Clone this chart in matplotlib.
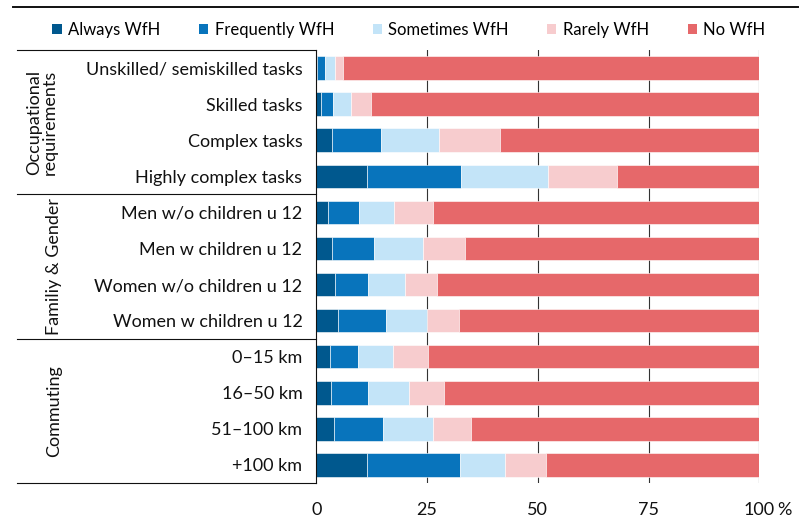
import matplotlib
matplotlib.use("Agg")
import matplotlib.pyplot as plt
from matplotlib.patches import Patch
from matplotlib.lines import Line2D
from matplotlib.transforms import blended_transform_factory
import numpy as np

plt.rcParams['font.family'] = ['Lato', 'DejaVu Sans']

categories = ["Unskilled/ semiskilled tasks", "Skilled tasks", "Complex tasks",
              "Highly complex tasks", "Men w/o children u 12", "Men w children u 12",
              "Women w/o children u 12", "Women w children u 12",
              "0\u201315 km", "16\u201350 km", "51\u2013100 km", "+100 km"]
series_names = ["Always WfH", "Frequently WfH", "Sometimes WfH", "Rarely WfH", "No WfH"]
always     = [0.2, 1.1, 3.5, 11.5, 2.7, 3.6, 4.2, 4.9, 3.1, 3.3, 4.0, 11.5]
frequently = [1.7, 2.7, 11.1, 21.1, 6.9, 9.4, 7.4, 10.8, 6.3, 8.3, 11.0, 20.9]
sometimes  = [2.3, 4.1, 13.1, 19.7, 8.0, 11.1, 8.4, 9.3, 7.9, 9.3, 11.4, 10.2]
rarely     = [1.8, 4.5, 13.8, 15.6, 8.8, 9.5, 7.3, 7.1, 7.9, 8.0, 8.5, 9.3]
no_wfh     = [94.0, 87.6, 58.5, 32.1, 73.6, 66.4, 72.7, 67.9, 74.8, 71.1, 65.1, 48.1]
groups = ["Occupational\nrequirements", "Familiy & Gender", "Commuting"]
group_sizes = [4, 4, 4]
xticks = [0, 25, 50, 75, 100]

colors = ["#00588E", "#0874BC", "#C3E4F8", "#F7CCCE", "#E6686A"]
series = [always, frequently, sometimes, rarely, no_wfh]
FS = 13
TXT = '#111111'

W, H = 806, 518
fig = plt.figure(figsize=(W / 100, H / 100), dpi=100)
ax = fig.add_axes([316.3 / W, 1 - 483 / H, (759.4 - 316.3) / W, (483 - 50) / H])

y = np.arange(len(categories))
left = np.zeros(len(categories))
for vals, col, name in zip(series, colors, series_names):
    ax.barh(y, vals, left=left, height=0.65, color=col, edgecolor='white',
            linewidth=0.4, label=name, zorder=3)
    left += np.array(vals)

ax.set_xlim(0, 100)
ax.set_ylim(len(categories) - 0.5, -0.5)
ax.set_yticks(y)
ax.set_yticklabels(categories, fontsize=FS, color=TXT)
ax.set_xticks(xticks)
ax.set_xticklabels([str(t) for t in xticks], fontsize=FS, color=TXT)
ax.tick_params(axis='y', length=0, pad=10)
ax.tick_params(axis='x', length=0, pad=14)
for t in xticks[1:]:
    ax.axvline(t, color='#333333', linewidth=0.8, zorder=1)
for s in ['top', 'right', 'bottom']:
    ax.spines[s].set_visible(False)
ax.spines['left'].set_color('#111111')
ax.spines['left'].set_linewidth(0.8)
ax.spines['left'].set_zorder(4)

# percent sign after 100
ax.annotate("%", xy=(100, 0), xycoords=blended_transform_factory(ax.transData, ax.transAxes),
            xytext=(12.5, -14), textcoords='offset points', ha='left', va='top',
            fontsize=FS, color=TXT)

# group separators and labels
bt = blended_transform_factory(fig.transFigure, ax.transData)
x_left = 17 / W
x_spine = 316.3 / W
start = -0.5
for g, n in zip(groups, group_sizes):
    ax.add_line(Line2D([x_left, x_spine], [start, start], transform=bt,
                       color='#111111', linewidth=0.8, clip_on=False))
    xc = 42 / W if "\n" in g else 54 / W
    fig.text(xc, start + n / 2, g, transform=bt, rotation=90, ha='center', va='center',
             fontsize=FS, color=TXT, linespacing=1.0)
    start += n
ax.add_line(Line2D([x_left, x_spine], [start, start], transform=bt,
                   color='#111111', linewidth=0.8, clip_on=False))

# top rule
fig.add_artist(Line2D([12.7 / W, 798 / W], [1 - 7 / H, 1 - 7 / H], transform=fig.transFigure,
                      color='#111111', linewidth=1.4))

handles = [Patch(facecolor=c, edgecolor='none', label=n) for c, n in zip(colors, series_names)]
fig.legend(handles=handles, loc='center', bbox_to_anchor=(409 / W, 1 - 30 / H), ncol=5,
           frameon=False, fontsize=12, handlelength=0.55, handleheight=0.55,
           handletextpad=0.4, columnspacing=2.3, borderpad=0, borderaxespad=0)

fig.savefig("out.png", dpi=100)
